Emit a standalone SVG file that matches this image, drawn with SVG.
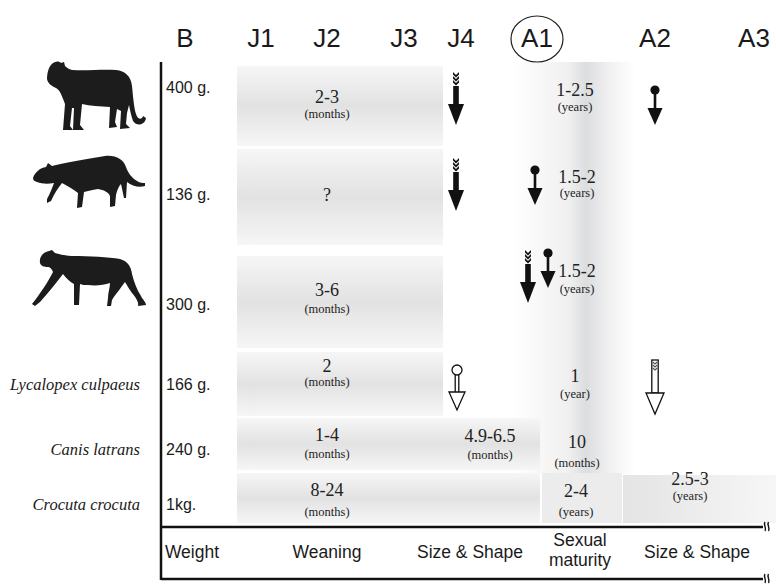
<svg xmlns="http://www.w3.org/2000/svg" xmlns:xlink="http://www.w3.org/1999/xlink" width="776" height="584" viewBox="0 0 776 584">
<style>
  .hdr { font-family: "Liberation Sans", Arial, sans-serif; font-size: 26px; fill: #1a1a1a; text-anchor: middle; }
  .wt { font-family: "Liberation Sans", Arial, sans-serif; font-size: 16px; fill: #1a1a1a; }
  .sp { font-family: "Liberation Serif", "Times New Roman", serif; font-style: italic; font-size: 16.5px; fill: #1a1a1a; text-anchor: end; }
  .val { font-family: "Liberation Serif", "Times New Roman", serif; font-size: 18px; fill: #222; text-anchor: middle; }
  .unit { font-family: "Liberation Serif", "Times New Roman", serif; font-size: 12.5px; fill: #222; text-anchor: middle; }
  .ax { font-family: "Liberation Sans", Arial, sans-serif; font-size: 17.5px; fill: #1a1a1a; text-anchor: middle; }
  .axis { stroke: #111; stroke-width: 2.5; fill: none; }
  .sil { fill: #1c1c1c; }
</style>
<defs>
  <linearGradient id="bandV" x1="0" y1="0" x2="0" y2="1">
    <stop offset="0" stop-color="#f6f6f6"/>
    <stop offset="0.5" stop-color="#e2e2e2"/>
    <stop offset="1" stop-color="#f6f6f6"/>
  </linearGradient>
  <linearGradient id="stripH" x1="0" y1="0" x2="1" y2="0">
    <stop offset="0" stop-color="#ffffff"/>
    <stop offset="0.45" stop-color="#f0f0f1"/>
    <stop offset="0.6" stop-color="#dcdddf"/>
    <stop offset="0.78" stop-color="#f0f0f1"/>
    <stop offset="1" stop-color="#ffffff"/>
  </linearGradient>
  <linearGradient id="bandR" x1="0" y1="0" x2="1" y2="0">
    <stop offset="0" stop-color="#e4e4e4"/>
    <stop offset="1" stop-color="#f6f6f6"/>
  </linearGradient>
  <!-- filled arrow with chevron fletching -->
  <g id="featherArrow">
    <path d="M-3,0 L0,3 L3,0 L3,2.6 L0,5.6 L-3,2.6Z M-3,4 L0,7 L3,4 L3,6.6 L0,9.6 L-3,6.6Z M-3,8 L0,11 L3,8 L3,10.6 L0,13.6 L-3,10.6Z" fill="#111"/>
    <rect x="-2.8" y="14" width="5.6" height="20" fill="#111"/>
    <polygon points="-8,32 8,32 0,53" fill="#111"/>
  </g>
  <!-- filled arrow with round tail -->
  <g id="pinArrow">
    <circle cx="0" cy="0" r="4.6" fill="#111"/>
    <rect x="-1.3" y="0" width="2.6" height="20" fill="#111"/>
    <polygon points="-7.5,18 7.5,18 0,35" fill="#111"/>
  </g>
  <!-- open arrow with round tail -->
  <g id="pinArrowOpen" fill="#fff" stroke="#111" stroke-width="1.3">
    <circle cx="0" cy="0" r="5"/>
    <path d="M-1.8,5 V22 M1.8,5 V22"/>
    <polygon points="-8,22 8,22 0,40"/>
  </g>
  <!-- open arrow with chevron fletching -->
  <g id="featherArrowOpen">
    <rect x="-3.2" y="0" width="6.4" height="33" fill="#fff" stroke="#111" stroke-width="1.3"/>
    <path d="M-2.2,2 L0,4 L2.2,2 M-2.2,5 L0,7 L2.2,5 M-2.2,8 L0,10 L2.2,8" fill="none" stroke="#555" stroke-width="1.2"/>
    <polygon points="-9,33 9,33 0,54" fill="#fff" stroke="#111" stroke-width="1.3"/>
  </g>
  <path id="brk" d="M0,-5 C-2,-2 2,1 0,4 M3.5,-5 C1.5,-2 5.5,1 3.5,4" fill="none" stroke="#111" stroke-width="1.4"/>
</defs>

<rect width="776" height="584" fill="#fff"/>

<!-- shaded period bands -->
<g id="bands">
  <rect x="513" y="62" width="122" height="412" fill="url(#stripH)"/>
  <rect x="237" y="66" width="206" height="80" fill="url(#bandV)"/>
  <rect x="237" y="149" width="206" height="96" fill="url(#bandV)"/>
  <rect x="237" y="256" width="206" height="92" fill="url(#bandV)"/>
  <rect x="237" y="352" width="206" height="64" fill="url(#bandV)"/>
  <rect x="237" y="418" width="303" height="52" fill="url(#bandV)"/>
  <rect x="237" y="473" width="303" height="50" fill="url(#bandV)"/>
  <rect x="542" y="473" width="80" height="50" fill="#ececec"/>
  <rect x="623" y="475" width="153" height="48" fill="url(#bandR)"/>
</g>

<!-- stage header -->
<g id="header">
  <text class="hdr" x="185" y="47">B</text>
  <text class="hdr" x="261" y="47">J1</text>
  <text class="hdr" x="327" y="47">J2</text>
  <text class="hdr" x="404" y="47">J3</text>
  <text class="hdr" x="461" y="47">J4</text>
  <ellipse cx="537" cy="39" rx="26" ry="23" fill="none" stroke="#222" stroke-width="1.2"/>
  <text class="hdr" x="537" y="47">A1</text>
  <text class="hdr" x="655" y="47">A2</text>
  <text class="hdr" x="754" y="47">A3</text>
</g>

<!-- axis frame -->
<g id="connectors">
  <path class="axis" d="M161,62 V580"/>
  <path class="axis" d="M161,527 H763"/>
  <path class="axis" d="M161,579 H763"/>
  <use xlink:href="#brk" x="765" y="527"/>
  <use xlink:href="#brk" x="765" y="579"/>
</g>

<!-- puma -->
<g id="puma">
  <path class="sil" d="M47,79 C47,72 49,66 53,63 C56,61 59,61 61,63 L64,62 L65,66 C67,68 69,69 72,70 C87,71 102,69 116,70 C125,71 131,76 132,86 C133,96 134,108 136,114 C138,120 142,120 143,116 L146,118 C145,125 137,127 133,121 C131,115 130,110 129,105 L127,113 L126,124 L130,128 L120,129 L121,111 L117,109 L115,122 L117,127 L109,128 L110,107 C100,106 90,106 82,104 L80,125 L84,130 L73,130 L74,108 L72,108 L70,126 L73,130 L63,130 L65,104 C62,96 60,90 56,88 C52,86 48,84 47,79 Z"/>
  <text class="wt" x="166" y="93">400 g.</text>
  <text class="val" x="327" y="103">2-3</text>
  <text class="unit" x="327" y="118">(months)</text>
  <text class="val" x="575" y="96">1-2.5</text>
  <text class="unit" x="575" y="111">(years)</text>
</g>

<!-- ocelot -->
<g id="ocelot">
  <path class="sil" d="M33,178 C35,172 40,168 46,167 L48,163 L52,166 C65,163 85,159 105,156 C116,155 123,159 126,167 C128,173 132,178 137,181 C140,183 143,183 145,183 L145,186 C139,188 132,186 127,182 L126,198 L124,198 L121,184 C119,186 117,190 116,195 L115,206 L110,207 L110,196 C108,192 104,190 98,189 C92,190 88,191 84,192 L82,207 L77,208 L78,193 C74,190 68,186 62,183 C58,188 54,194 51,201 L47,203 L47,199 C50,194 52,188 54,183 C48,184 42,184 37,182 C34,181 33,180 33,178 Z"/>
  <text class="wt" x="166" y="200">136 g.</text>
  <text class="val" x="327" y="201">?</text>
  <text class="val" x="577" y="183">1.5-2</text>
  <text class="unit" x="577" y="197">(years)</text>
</g>

<!-- cheetah -->
<g id="cheetah">
  <path class="sil" d="M40,263 C39,257 43,252 49,251 L52,250 L55,253 C60,254 65,256 72,256 C90,256 108,257 120,259 C127,261 131,266 132,274 C134,282 137,290 141,296 C143,300 146,302 146,305 L138,306 C139,302 136,298 132,293 C129,289 127,285 125,282 L122,286 C118,292 114,296 112,300 L111,306 L107,306 L108,298 C108,292 110,288 110,283 C104,285 96,286 88,285 C85,285 82,285 80,284 L79,305 L74,305 L74,284 C70,282 66,278 63,274 C57,282 49,292 40,302 L35,306 L32,304 C40,294 48,282 53,272 C52,269 50,267 48,267 C44,267 41,266 40,263 Z"/>
  <text class="wt" x="166" y="310">300 g.</text>
  <text class="val" x="327" y="296">3-6</text>
  <text class="unit" x="327" y="313">(months)</text>
  <text class="val" x="577" y="277">1.5-2</text>
  <text class="unit" x="577" y="293">(years)</text>
</g>

<g id="culpeo">
  <text class="sp" x="140" y="390">Lycalopex culpaeus</text>
  <text class="wt" x="166" y="390">166 g.</text>
  <text class="val" x="327" y="372">2</text>
  <text class="unit" x="327" y="386">(months)</text>
  <text class="val" x="575" y="382">1</text>
  <text class="unit" x="575" y="398">(year)</text>
</g>

<g id="coyote">
  <text class="sp" x="140" y="455">Canis latrans</text>
  <text class="wt" x="166" y="455">240 g.</text>
  <text class="val" x="327" y="441">1-4</text>
  <text class="unit" x="327" y="458">(months)</text>
  <text class="val" x="490" y="442">4.9-6.5</text>
  <text class="unit" x="490" y="459">(months)</text>
  <text class="val" x="577" y="448">10</text>
  <text class="unit" x="577" y="467">(months)</text>
</g>

<g id="hyena">
  <text class="sp" x="140" y="510">Crocuta crocuta</text>
  <text class="wt" x="166" y="510">1kg.</text>
  <text class="val" x="327" y="496">8-24</text>
  <text class="unit" x="327" y="516">(months)</text>
  <text class="val" x="576" y="497">2-4</text>
  <text class="unit" x="576" y="516">(years)</text>
  <text class="val" x="690" y="485">2.5-3</text>
  <text class="unit" x="690" y="500">(years)</text>
</g>

<!-- event arrows -->
<g id="arrows">
  <use xlink:href="#featherArrow" x="456" y="72"/>
  <use xlink:href="#pinArrow" x="655" y="90"/>
  <use xlink:href="#featherArrow" x="456" y="158"/>
  <use xlink:href="#pinArrow" x="535" y="170"/>
  <use xlink:href="#featherArrow" x="528" y="250"/>
  <use xlink:href="#pinArrow" x="548" y="253"/>
  <use xlink:href="#pinArrowOpen" x="457" y="370"/>
  <use xlink:href="#featherArrowOpen" x="655" y="360"/>
</g>

<!-- trait axis labels -->
<g id="axis-labels">
  <text class="ax" x="192" y="558">Weight</text>
  <text class="ax" x="327" y="558">Weaning</text>
  <text class="ax" x="470" y="558">Size &amp; Shape</text>
  <text class="ax" x="580" y="546">Sexual</text>
  <text class="ax" x="580" y="566">maturity</text>
  <text class="ax" x="697" y="558">Size &amp; Shape</text>
</g>
</svg>
